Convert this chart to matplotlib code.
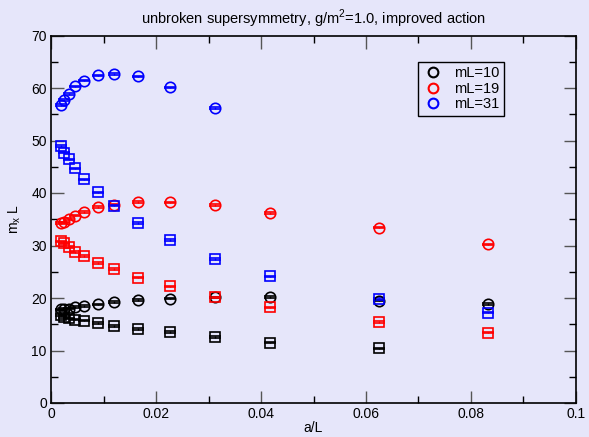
import matplotlib
matplotlib.use('Agg')
import matplotlib.pyplot as plt
import numpy as np

plt.rcParams['font.family'] = ['Liberation Sans', 'DejaVu Sans']

# a/L values
x_fine = [0.00185, 0.00248, 0.00343, 0.00463, 0.00634, 0.0089, 0.01206,
          0.01651, 0.02267, 0.03125]
x_coarse = [0.04167, 0.0625, 0.08333]

# mL=10
black_circ_x = x_fine + x_coarse
black_circ_y = [17.85, 17.9, 18.0, 18.3, 18.5, 18.8, 19.2, 19.6, 19.9, 20.1,
                20.2, 19.5, 18.9]
black_sq_x = x_fine + x_coarse[:2]
black_sq_y = [16.8, 16.4, 16.1, 15.9, 15.7, 15.2, 14.7, 14.1, 13.5, 12.6,
              11.5, 10.4]

# mL=19
red_circ_x = x_fine + x_coarse
red_circ_y = [34.3, 34.4, 35.1, 35.7, 36.4, 37.3, 37.8, 38.3, 38.2, 37.7,
              36.2, 33.4, 30.2]
red_sq_x = x_fine + x_coarse
red_sq_y = [30.8, 30.4, 29.7, 28.8, 28.0, 26.7, 25.5, 23.9, 22.2, 20.1,
            18.2, 15.4, 13.4]

# mL=31
blue_circ_x = x_fine
blue_circ_y = [56.8, 57.7, 58.9, 60.3, 61.4, 62.4, 62.7, 62.2, 60.1, 56.2]
blue_sq_x = x_fine + x_coarse
blue_sq_y = [48.9, 47.7, 46.4, 44.7, 42.6, 40.1, 37.6, 34.3, 31.0, 27.4,
             24.1, 19.8, 17.2]

err = 0.15
bg = '#E6E6FA'

fig = plt.figure(figsize=(5.89, 4.37), dpi=100, facecolor=bg)
ax = fig.add_axes([51 / 589, 34 / 437, 525 / 589, 367.5 / 437])
ax.set_facecolor(bg)

series = [
    ('black', black_circ_x, black_circ_y, black_sq_x, black_sq_y, 'mL=10'),
    ('red', red_circ_x, red_circ_y, red_sq_x, red_sq_y, 'mL=19'),
    ('blue', blue_circ_x, blue_circ_y, blue_sq_x, blue_sq_y, 'mL=31'),
]
for col, cx, cy, sx, sy, lab in series:
    ax.errorbar(cx, cy, yerr=err, fmt='o', mfc='none', mec=col, ecolor=col,
                ms=7.5, mew=1.2, capsize=4, elinewidth=1, capthick=1, label=lab)
    ax.errorbar(sx, sy, yerr=err, fmt='s', mfc='none', mec=col, ecolor=col,
                ms=6.5, mew=1.2, capsize=4, elinewidth=1, capthick=1)

ax.set_xlim(0, 0.1)
ax.set_ylim(0, 70)
ax.set_xticks(np.arange(0, 0.101, 0.02))
ax.set_xticklabels(['0', '0.02', '0.04', '0.06', '0.08', '0.1'])
ax.set_xticks(np.arange(0.01, 0.1, 0.02), minor=True)
ax.set_yticks(np.arange(0, 71, 10))
ax.set_yticks(np.arange(5, 70, 10), minor=True)
ax.tick_params(which='both', direction='in', top=True, right=True,
               labelsize=10, pad=3)
ax.tick_params(which='major', length=9, width=1, color='#555555')
ax.tick_params(which='minor', length=5, width=1)
for s in ax.spines.values():
    s.set_linewidth(1.2)

ax.set_xlabel('a/L', fontsize=10, labelpad=0)
ax.set_ylabel('m$_\\mathregular{x}$ L', fontsize=10, labelpad=6)
ax.set_title('unbroken supersymmetry, g/m$^\\mathregular{2}$=1.0, improved action',
             fontsize=10.5, pad=8)

handles, labels = ax.get_legend_handles_labels()
handles = [plt.Line2D([], [], ls='none', marker='o', mfc='none', mec=c,
                      ms=7, mew=1.5) for c in ['black', 'red', 'blue']]
leg = ax.legend(handles, labels, loc='upper left',
                bbox_to_anchor=(367 / 525, 1 - 26 / 367.5), borderaxespad=0,
                fontsize=10.5, frameon=True, fancybox=False,
                edgecolor='black', facecolor=bg, framealpha=1,
                handletextpad=0.8, borderpad=0.3, labelspacing=0.12,
                handlelength=1.4)
leg.get_frame().set_linewidth(1)

fig.savefig('out.png', dpi=100, facecolor=bg)
